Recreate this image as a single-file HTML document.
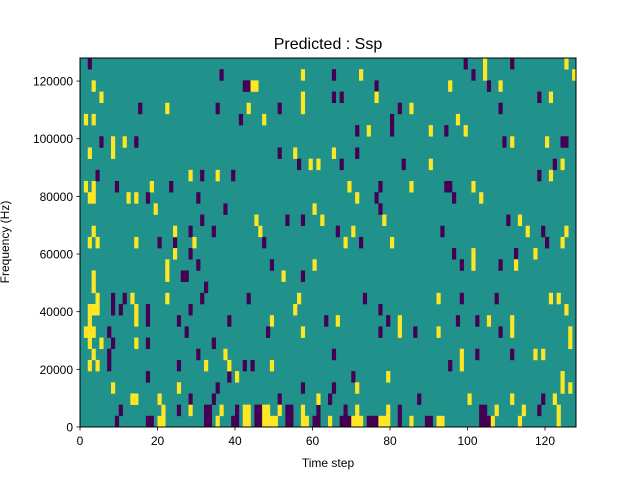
<!DOCTYPE html>
<html><head><meta charset="utf-8"><style>
html,body{margin:0;padding:0;background:#fff;}
svg{display:block;font-family:"Liberation Sans",sans-serif;}
</style></head><body>
<svg id="chart" width="640" height="480" viewBox="0 0 640 480" xmlns="http://www.w3.org/2000/svg">
<rect width="640" height="480" fill="#fff"/>
<text x="328" y="49" font-size="16" text-anchor="middle" fill="#000">Predicted : Ssp</text>
<g id="cells"></g>
<rect x="80" y="58" width="496" height="369" fill="none" stroke="#000" stroke-width="1"/>
<g id="xticks"></g>
<g id="yticks"></g>
<text x="328" y="467" font-size="12" text-anchor="middle">Time step</text>
<text transform="translate(9,242) rotate(-90)" font-size="12" text-anchor="middle">Frequency (Hz)</text>
</svg>
<script>
const numSteps = 128;
const numBins = 33;
const maxHz = 128000;
const xTicks = [0,20,40,60,80,100,120];
const yTicks = [0,20000,40000,60000,80000,100000,120000];
// [timeStep, freqBin] cells at low value (purple)
const lowCells = [
[2,32],[15,28],[5,25],[14,25],[4,22],[31,22],[9,21],[23,21],[17,20],[30,20],[31,18],[28,17],[20,16],[24,16],[28,15],
[26,13],[27,13],[30,14],[8,11],[8,10],[11,11],[31,11],[10,10],[17,10],[17,9],[28,10],[25,9],[7,8],[27,8],[8,7],[17,7],
[7,6],[7,5],[30,6],[25,5],[17,4],[28,2],[10,1],[25,1],[9,0],[17,0],[18,0],
[36,31],[42,30],[43,30],[35,28],[51,28],[41,27],[51,24],[56,23],[39,22],[37,19],[53,18],[57,18],[34,17],[47,16],[49,14],
[57,13],[32,12],[43,11],[38,9],[63,9],[48,8],[34,7],[42,5],[44,5],[38,4],[35,3],[57,3],[34,2],[51,2],
[32,1],[33,1],[40,1],[45,1],[46,1],[53,1],[54,1],[61,1],[32,0],[33,0],[39,0],[40,0],[45,0],[46,0],[53,0],[54,0],[60,0],[61,0],
[65,31],[76,30],[65,29],[67,29],[82,28],[80,27],[80,26],[71,26],[94,26],[71,24],[67,23],[83,23],[77,21],[94,21],[95,21],
[76,20],[77,19],[66,17],[93,17],[72,16],[73,11],[77,10],[79,9],[77,8],[86,8],[65,6],[95,5],[70,4],[65,3],[64,2],[87,2],
[68,1],[82,1],[67,0],[68,0],[69,0],[74,0],[75,0],[76,0],[82,0],[89,0],[90,0],
[99,32],[111,32],[101,31],[105,30],[118,29],[108,28],[109,25],[124,25],[125,25],[122,23],[118,22],[96,20],[110,18],[119,17],
[120,16],[96,15],[112,15],[98,14],[108,14],[98,11],[107,11],[97,9],[102,9],[108,8],[102,6],[111,6],[119,2],[103,1],[104,1],
[118,1],[103,0],[104,0],[105,0]
];
// [timeStep, freqBin] cells at high value (yellow)
const highCells = [
[3,30],[5,29],[22,28],[1,27],[3,27],[8,25],[8,24],[11,25],[2,24],[28,22],[1,21],[3,21],[3,20],[18,21],[2,20],[12,20],[14,20],
[19,19],[3,17],[24,17],[2,16],[4,16],[14,16],[29,16],[24,15],[22,14],[22,13],[3,13],[3,12],[4,11],[4,10],[13,11],[22,11],
[2,10],[3,10],[14,10],[14,9],[2,9],[1,8],[2,8],[3,8],[2,7],[5,7],[14,7],[3,6],[2,5],[4,5],[8,3],[25,3],[13,2],[14,2],[20,2],
[21,1],[28,1],[20,0],[21,0],
[57,31],[44,30],[45,30],[57,29],[57,28],[43,28],[47,27],[55,24],[59,23],[61,23],[35,22],[60,19],[45,18],[62,18],[46,17],
[60,14],[52,13],[56,11],[55,10],[49,9],[57,8],[37,6],[32,5],[38,5],[49,5],[40,4],[61,2],[36,1],[42,1],[43,1],[47,1],[48,1],
[51,1],[57,1],[35,0],[42,0],[43,0],[47,0],[48,0],[49,0],[50,0],[57,0],[58,0],
[72,31],[95,30],[76,29],[85,28],[74,26],[90,26],[65,24],[90,23],[69,21],[85,21],[71,20],[78,18],[70,17],[68,16],[80,16],
[92,11],[66,9],[82,9],[82,8],[92,8],[79,4],[71,3],[71,1],[79,1],[64,0],[70,0],[71,0],[72,0],[77,0],[78,0],[79,0],[85,0],[92,0],[93,0],
[104,32],[104,31],[125,32],[127,31],[108,30],[121,29],[97,27],[99,26],[111,25],[120,25],[124,23],[121,22],[101,21],[103,20],
[113,18],[115,17],[125,17],[124,16],[101,15],[101,14],[117,15],[112,14],[121,11],[123,11],[125,10],[105,9],[111,9],[111,8],
[126,8],[126,7],[98,6],[98,5],[117,6],[119,6],[124,4],[124,3],[126,3],[100,2],[111,2],[122,2],[107,1],[114,1],[123,1],
[106,0],[113,0],[123,0]
];
const X0=80, X1=576, Y0=427, Y1=58;
const xScale = t => X0 + (t/numSteps)*(X1-X0);
const yScale = b => Y0 - (b/numBins)*(Y0-Y1);
const yHz = hz => Y0 - (hz/maxHz)*(Y0-Y1);
const NS="http://www.w3.org/2000/svg";
const cells=document.getElementById('cells');
function mk(tag, attrs){const e=document.createElementNS(NS,tag);for(const k in attrs)e.setAttribute(k,attrs[k]);return e;}
const bg = mk('rect',{x:X0,y:Y1,width:X1-X0,height:Y0-Y1,fill:'#21918c'});


cells.appendChild(bg);
function drawCell(t,b,color,name){
  const x=xScale(t), x2=xScale(t+1), y=yScale(b+1), y2=yScale(b);
  const r=mk('rect',{x:x,y:y,width:x2-x+0.3,height:y2-y+0.3,fill:color});
  
  
  cells.appendChild(r);
}
lowCells.forEach(c=>drawCell(c[0],c[1],'#440154','heatmap-cell-low'));
highCells.forEach(c=>drawCell(c[0],c[1],'#fde725','heatmap-cell-high'));
const xt=document.getElementById('xticks');
xTicks.forEach(v=>{
  const x=xScale(v);
  const l=mk('line',{x1:x,x2:x,y1:Y0,y2:Y0+3.5,stroke:'#000','stroke-width':0.8});
  
  
  xt.appendChild(l);
  const tx=mk('text',{x:x,y:Y0+18,'font-size':12,'text-anchor':'middle'});
  tx.textContent=v;
  
  
  xt.appendChild(tx);
});
const yt=document.getElementById('yticks');
yTicks.forEach(v=>{
  const y=yHz(v);
  const l=mk('line',{x1:X0-3.5,x2:X0,y1:y,y2:y,stroke:'#000','stroke-width':0.8});
  
  
  yt.appendChild(l);
  const tx=mk('text',{x:X0-7,y:y+4.5,'font-size':12,'text-anchor':'end'});
  tx.textContent=v;
  
  
  yt.appendChild(tx);
});
</script>
</body></html>
